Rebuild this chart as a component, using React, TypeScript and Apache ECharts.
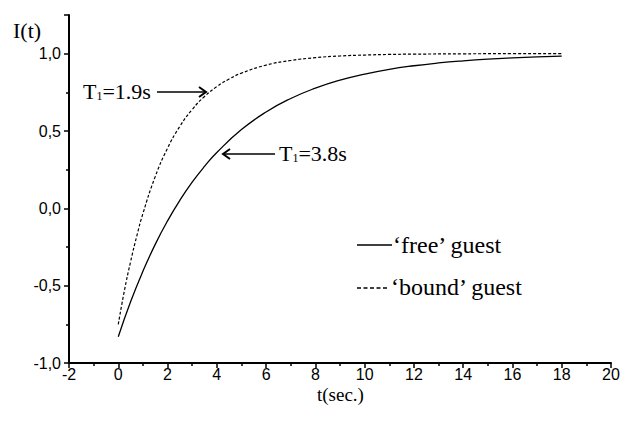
import React, { useEffect, useRef } from "react";
import * as echarts from "echarts";

const tFree = [0, 0.5, 1, 1.5, 2, 2.5, 3, 3.5, 4, 5, 6, 7, 8, 9, 10, 11, 12, 13, 14, 15, 16, 17, 18];
const iFree = [-0.83, -0.604, -0.407, -0.233, -0.081, 0.052, 0.169, 0.271, 0.361, 0.509, 0.623, 0.71, 0.777, 0.829, 0.868, 0.899, 0.922, 0.94, 0.954, 0.965, 0.973, 0.979, 0.984];
const tBound = [0, 0.25, 0.5, 0.75, 1, 1.5, 2, 2.5, 3, 3.5, 4, 4.5, 5, 6, 7, 8, 9, 10, 11, 12, 14, 16, 18];
const iBound = [-0.75, -0.531, -0.345, -0.18, -0.034, 0.205, 0.389, 0.53, 0.639, 0.723, 0.787, 0.836, 0.874, 0.926, 0.956, 0.974, 0.985, 0.991, 0.995, 0.997, 0.999, 1.0, 1.0];
const seriesNames = ["\u2018free\u2019 guest", "\u2018bound\u2019 guest"];
const xLabelName = "t(sec.)";
const yLabelName = "I(t)";

const serif = "Liberation Serif";
const sans = "Liberation Sans";

export default function App() {
  const ref = useRef<HTMLDivElement>(null);
  useEffect(() => {
    if (!ref.current) return;
    const chart = echarts.init(ref.current, null, { renderer: "svg" });
    const fmtY = (v: number) => v.toFixed(1).replace(".", ",");
    const txt = (text: string, left: number, top: number, size: number) => ({
      type: "text",
      left,
      top,
      style: { text, fontFamily: serif, fontSize: size, fill: "#000" },
    });
    const sub = (text: string, left: number, top: number) => ({
      type: "text",
      left,
      top,
      style: {
        text,
        fill: "#000",
        fontFamily: serif,
        fontSize: 22,
        rich: {
          n: { fontFamily: serif, fontSize: 22, lineHeight: 24, verticalAlign: "bottom" },
          s: { fontFamily: serif, fontSize: 12, lineHeight: 22, verticalAlign: "bottom" },
        },
      },
    });
    const line = (x1: number, y1: number, x2: number, y2: number, dash?: number[]) => ({
      type: "line",
      shape: { x1, y1, x2, y2 },
      style: { stroke: "#000", lineWidth: 1.3, lineDash: dash },
    });
    const head = (pts: number[][]) => ({
      type: "polyline",
      shape: { points: pts },
      style: { stroke: "#000", lineWidth: 2, fill: "none" },
    });
    chart.setOption({
      animation: false,
      backgroundColor: "#fff",
      grid: { left: 69, right: 17, top: 15, bottom: 59 },
      xAxis: {
        type: "value",
        min: -2,
        max: 20,
        interval: 2,
        axisLine: { onZero: false, lineStyle: { color: "#000", width: 2 } },
        axisTick: { inside: false, length: 5, lineStyle: { color: "#000", width: 1.5 } },
        minorTick: { show: true, splitNumber: 2, length: 3, lineStyle: { color: "#000", width: 1.5 } },
        splitLine: { show: false },
        axisLabel: { color: "#000", fontFamily: sans, fontSize: 16, margin: 3 },
      },
      yAxis: {
        type: "value",
        min: -1,
        max: 1.25,
        interval: 0.5,
        axisLine: { onZero: false, lineStyle: { color: "#000", width: 2 } },
        axisTick: { inside: false, length: 5, lineStyle: { color: "#000", width: 1.5 } },
        minorTick: { show: true, splitNumber: 2, length: 3, lineStyle: { color: "#000", width: 1.5 } },
        splitLine: { show: false },
        axisLabel: {
          color: "#000",
          fontFamily: sans,
          fontSize: 16,
          margin: 8,
          showMaxLabel: false,
          formatter: (v: number) => (Math.abs(v - 1.25) < 1e-6 ? "" : fmtY(v)),
        },
      },
      series: [
        {
          name: seriesNames[0],
          type: "line",
          smooth: true,
          symbol: "none",
          data: tFree.map((t, i) => [t, iFree[i]]),
          lineStyle: { color: "#000", width: 1.3, type: "solid" },
        },
        {
          name: seriesNames[1],
          type: "line",
          smooth: true,
          symbol: "none",
          data: tBound.map((t, i) => [t, iBound[i]]),
          lineStyle: { color: "#000", width: 1.2, type: [3, 2] },
        },
      ],
      graphic: [
        txt(yLabelName, 13, 19, 22),
        txt(xLabelName, 317, 385, 19),
        sub("{n|T}{s|1}{n|=1.9s}", 83, 80),
        line(157, 92, 205, 92),
        head([[199, 87], [206, 92], [199, 97]]),
        sub("{n|T}{s|1}{n|=3.8s}", 279, 142),
        line(224, 154, 275, 154),
        head([[230, 149], [223, 154], [230, 159]]),
        line(357, 245, 392, 245),
        txt(seriesNames[0], 393, 233, 24),
        line(357, 288, 389, 288, [4, 2.5]),
        txt(seriesNames[1], 391, 275, 24),
      ],
    });
    return () => chart.dispose();
  }, []);
  return <div ref={ref} style={{ width: 628, height: 422, position: "absolute", left: 0, top: 0 }} />;
}
